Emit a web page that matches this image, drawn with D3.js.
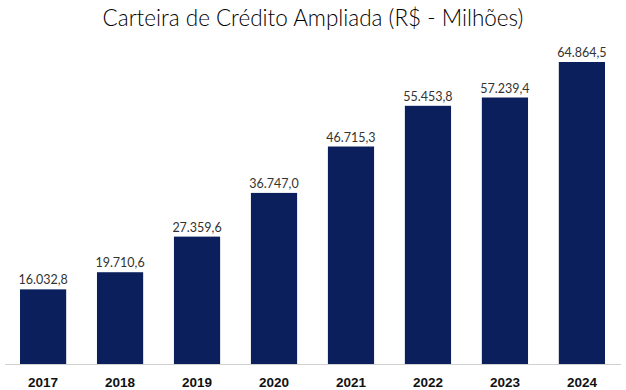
<!DOCTYPE html>
<html>
<head>
<meta charset="utf-8">
<script src="https://cdn.jsdelivr.net/npm/d3@7"></script>
<style>
  body { margin: 0; background: #fff; }
</style>
</head>
<body>
<div id="chart"></div>
<script>
// data
const years = ["2017", "2018", "2019", "2020", "2021", "2022", "2023", "2024"];
const valores = [16032.8, 19710.6, 27359.6, 36747.0, 46715.3, 55453.8, 57239.4, 64864.5];
const rotulos = ["16.032,8", "19.710,6", "27.359,6", "36.747,0", "46.715,3", "55.453,8", "57.239,4", "64.864,5"];

const width = 626, height = 390;
const baseY = 364;

let svg = d3.select("#chart").append("svg")
    .attr("width", width)
    .attr("height", height);

svg.append("text")
    .attr("x", 313)
    .attr("y", 26)
    .attr("text-anchor", "middle")
    .style("font-family", "Lato, 'Open Sans', sans-serif")
    .style("font-size", "22.5px")
    .style("font-weight", 300)
    .style("fill", "#000")
    .text("Carteira de Crédito Ampliada (R$ - Milhões)");

let x = d3.scaleBand()
    .domain(years)
    .range([4.6, 620.4])
    .paddingInner(0.4)
    .paddingOuter(0.2);

let y = d3.scaleLinear()
    .domain([0, d3.max(valores)])
    .range([baseY, 62]);

// bars
svg.append("g").selectAll("rect")
    .data(valores).enter()
    .append("rect")
    .attr("x", (d, i) => x(years[i]))
    .attr("y", d => y(d))
    .attr("width", x.bandwidth())
    .attr("height", d => baseY - y(d))
    .attr("fill", "#0a1f5c");

// value labels
svg.append("g").selectAll("text")
    .data(valores).enter()
    .append("text")
    .attr("x", (d, i) => x(years[i]) + x.bandwidth() / 2)
    .attr("y", d => y(d) - 5)
    .attr("text-anchor", "middle")
    .style("font-family", "Lato, 'Open Sans', sans-serif")
    .style("font-size", "12.5px")
    .style("fill", "#333")
    .text((d, i) => rotulos[i]);

// baseline axis
let axis = svg.append("g")
    .attr("transform", `translate(0,${baseY})`)
    .call(d3.axisBottom(x).tickSize(0).tickPadding(13));

axis.select(".domain").attr("stroke", "#d0d0d0").attr("stroke-width", 1);
axis.selectAll("text")
    .style("font-family", "'Liberation Sans', Arial, sans-serif")
    .style("font-size", "13.5px")
    .style("font-weight", "bold")
    .style("fill", "#111");
</script>
</body>
</html>
